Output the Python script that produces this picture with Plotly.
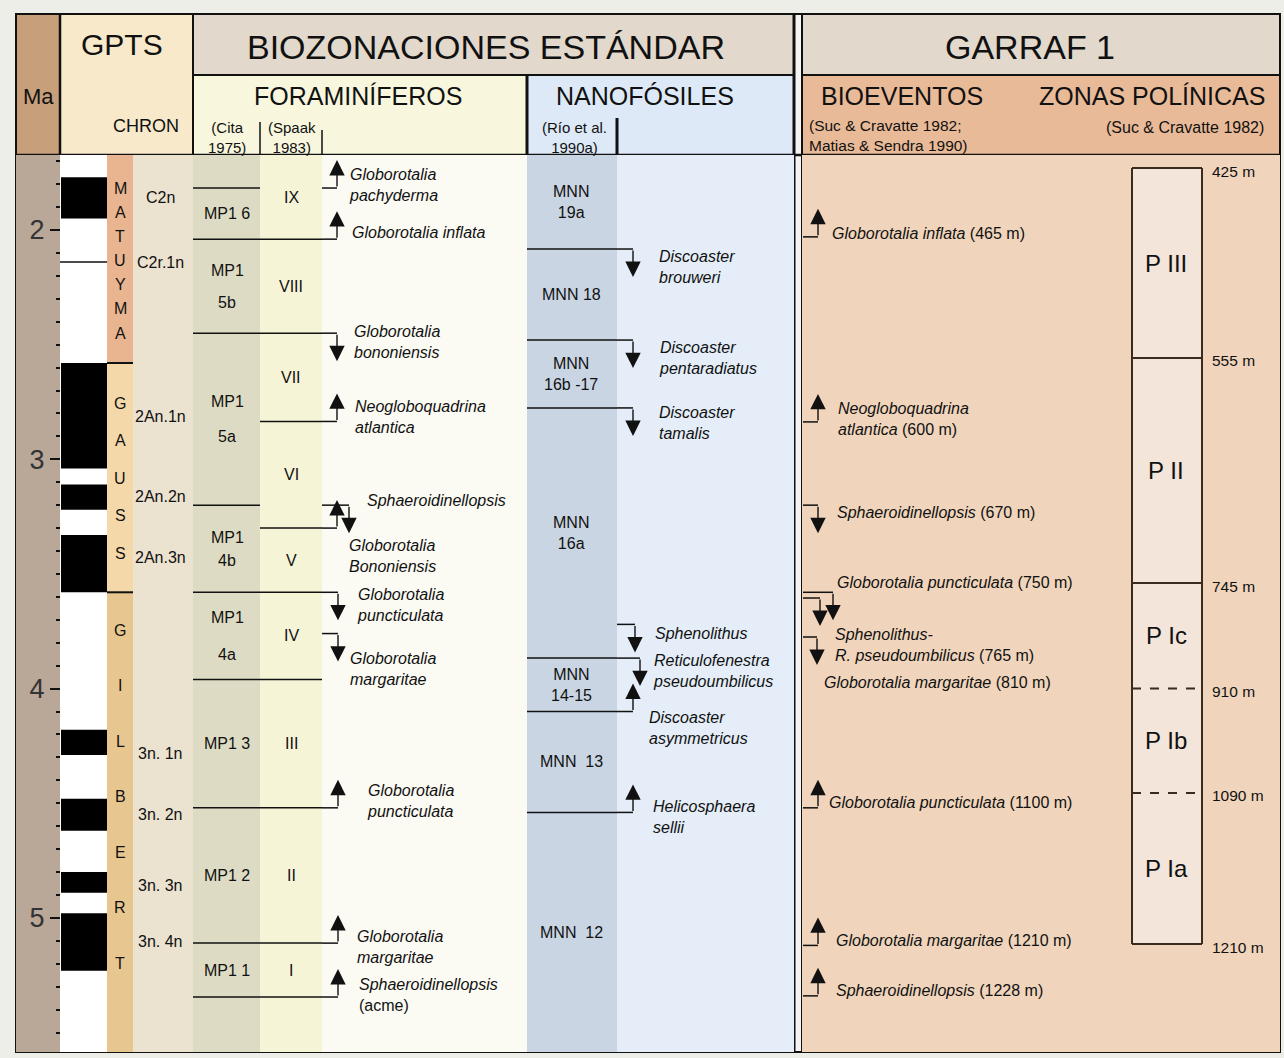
import plotly.graph_objects as go

# ---------------- data (ages in Ma) ----------------
# GPTS: normal polarity intervals (black)
normal_top = [1.77, 2.58, 3.11, 3.33, 4.18, 4.48, 4.80, 4.98]
normal_base = [1.95, 3.04, 3.22, 3.58, 4.29, 4.62, 4.89, 5.23]
reunion_ma = 2.14
epochs = ["MATUYMA", "GAUSS", "GILBERT"]
epoch_limits = [2.58, 3.58]
chrons = ["C2n", "C2r.1n", "2An.1n", "2An.2n", "2An.3n", "3n. 1n", "3n. 2n", "3n. 3n", "3n. 4n"]
chron_ma = [1.86, 2.14, 2.815, 3.164, 3.43, 4.281, 4.551, 4.857, 5.105]

# planktonic foraminifera
cita_zones = ["MP1 6", "MP1|5b", "MP1|5a", "MP1|4b", "MP1|4a", "MP1 3", "MP1 2", "MP1 1"]
cita_limits = [1.817, 2.04, 2.45, 3.20, 3.58, 3.96, 4.52, 5.11, 5.345]
spaak_zones = ["IX", "VIII", "VII", "VI", "V", "IV", "III", "II", "I"]
spaak_limits = [2.04, 2.45, 2.835, 3.30, 3.58, 3.96, 4.52, 5.11, 5.345]
foram_events = ["<i>Globorotalia<br>pachyderma</i>", "<i>Globorotalia inflata</i>",
                "<i>Globorotalia<br>bononiensis</i>", "<i>Neogloboquadrina<br>atlantica</i>",
                "<i>Sphaeroidinellopsis</i>", "<i>Globorotalia<br>Bononiensis</i>",
                "<i>Globorotalia<br>puncticulata</i>", "<i>Globorotalia<br>margaritae</i>",
                "<i>Globorotalia<br>puncticulata</i>", "<i>Globorotalia<br>margaritae</i>",
                "<i>Sphaeroidinellopsis</i><br>(acme)"]
foram_ma = [1.817, 2.04, 2.45, 2.835, 3.20, 3.30, 3.58, 3.76, 4.52, 5.11, 5.345]
foram_dir = ["up", "up", "down", "up", "down", "up", "down", "down", "up", "up", "up"]

# calcareous nannofossils
nanno_zones = ["MNN<br>19a", "MNN 18", "MNN<br>16b -17", "MNN<br>16a", "MNN<br>14-15",
               "MNN\u00a0 13", "MNN\u00a0 12"]
nanno_limits = [2.083, 2.48, 2.776, 3.867, 4.10, 4.54]
nanno_events = ["<i>Discoaster<br>brouweri</i>", "<i>Discoaster<br>pentaradiatus</i>",
                "<i>Discoaster<br>tamalis</i>", "<i>Sphenolithus</i>",
                "<i>Reticulofenestra<br>pseudoumbilicus</i>", "<i>Discoaster<br>asymmetricus</i>",
                "<i>Helicosphaera<br>sellii</i>"]
nanno_ma = [2.083, 2.48, 2.776, 3.72, 3.867, 4.10, 4.54]
nanno_dir = ["down", "down", "down", "down", "down", "up", "up"]

# Garraf 1 well
garraf_events = ["<i>Globorotalia inflata</i> (465 m)",
                 "<i>Neogloboquadrina<br>atlantica</i> (600 m)",
                 "<i>Sphaeroidinellopsis</i> (670 m)",
                 "<i>Globorotalia puncticulata</i> (750 m)",
                 "<i>Sphenolithus-<br>R. pseudoumbilicus</i> (765 m)",
                 "<i>Globorotalia margaritae</i> (810 m)",
                 "<i>Globorotalia puncticulata</i> (1100 m)",
                 "<i>Globorotalia margaritae</i> (1210 m)",
                 "<i>Sphaeroidinellopsis</i> (1228 m)"]
garraf_ma = [2.03, 2.837, 3.20, 3.58, 3.605, 3.775, 4.52, 5.12, 5.34]
garraf_dir = ["up", "up", "down", "down", "down", "down", "up", "up", "up"]
pollen_zones = ["P III", "P II", "P Ic", "P Ib", "P Ia"]
pollen_ma = [1.73, 2.558, 3.54, 4.00, 4.455, 5.114]
pollen_depth = ["425 m", "555 m", "745 m", "910 m", "1090 m", "1210 m"]
pollen_dashed = [False, False, False, True, True, False]

# ---------------- layout helpers ----------------
W, H = 1284, 1058
MA0, MA1 = 0.997, 5.611          # ages at the top / bottom pixel rows
K = H / (MA1 - MA0)              # pixels per Ma
FONT = "Arial, Liberation Sans, sans-serif"
INK = "#111111"
ARROW = 28                        # arrow length, px


def ma(p):
    return MA0 + p / K


def pp(p):
    return 1 - p / H


TOP, BOT = ma(155), ma(1052)

shapes, anns = [], []


def box(x0, x1, y0, y1, fill, yref="y"):
    shapes.append(dict(type="rect", xref="x", yref=yref, x0=x0, x1=x1, y0=y0, y1=y1,
                       fillcolor=fill, line_width=0, layer="below"))


def line(x0, x1, y0, y1, w=1.5, yref="y", dash=None, color=INK):
    shapes.append(dict(type="line", xref="x", yref=yref, x0=x0, x1=x1, y0=y0, y1=y1,
                       line=dict(color=color, width=w, dash=dash), layer="below"))


def text(x, y, s, size=16, yref="y", xanchor="center", color=INK):
    anns.append(dict(x=x, y=y, xref="x", yref=yref, text=s, showarrow=False,
                     xanchor=xanchor, yanchor="middle", align=xanchor if xanchor != "center" else "center",
                     font=dict(size=size, color=color, family=FONT)))


def event(x_from, x_stem, age, direction):
    line(x_from, x_stem, age, age, w=1.5)
    tip = age - ARROW / K if direction == "up" else age + ARROW / K
    anns.append(dict(x=x_stem, y=tip, ax=x_stem, ay=age, xref="x", yref="y", axref="x", ayref="y",
                     text="", showarrow=True, arrowhead=2, arrowsize=2.2, arrowwidth=1.4,
                     arrowcolor=INK, standoff=0, startstandoff=0))


# ---------------- header ----------------
box(16, 60, pp(14), pp(155), "#c89f7b", "paper")
box(60, 193, pp(14), pp(155), "#f8e9cb", "paper")
box(193, 794, pp(14), pp(75), "#e2d8cb", "paper")
box(193, 527, pp(75), pp(155), "#f8f7dd", "paper")
box(527, 794, pp(75), pp(155), "#dde9f6", "paper")
box(794, 802, pp(14), pp(1052), "#f4f4f2", "paper")
box(802, 1280, pp(14), pp(75), "#e2d8cb", "paper")
box(802, 1280, pp(75), pp(155), "#e9ba97", "paper")

text(38, pp(97), "Ma", 22, "paper")
text(122, pp(45), "GPTS", 30, "paper")
text(146, pp(126), "CHRON", 18, "paper")
text(486, pp(47), "BIOZONACIONES ESTÁNDAR", 34, "paper")
text(358, pp(96), "FORAMINÍFEROS", 25, "paper")
text(227, pp(137), "(Cita<br>1975)", 15, "paper")
text(292, pp(137), "(Spaak<br>1983)", 15, "paper")
text(645, pp(96), "NANOFÓSILES", 25, "paper")
text(574, pp(137), "(Río et al.<br>1990a)", 15, "paper")
text(1030, pp(47), "GARRAF 1", 34, "paper")
text(902, pp(96), "BIOEVENTOS", 25, "paper")
text(1152, pp(96), "ZONAS POLÍNICAS", 25, "paper")
text(807, pp(135), "(Suc & Cravatte 1982;<br>Matias & Sendra 1990)", 15.5, "paper", "left")
text(1266, pp(127), "(Suc & Cravatte 1982)", 16, "paper", "right")

# ---------------- body columns ----------------
box(16, 60, TOP, BOT, "#b9a797")
box(60, 107, TOP, BOT, "#ffffff")
box(133, 193, TOP, BOT, "#ece2d0")
box(193, 260, TOP, BOT, "#dedbc4")
box(260, 322, TOP, BOT, "#f6f4d7")
box(322, 527, TOP, BOT, "#fbfaf3")
box(527, 617, TOP, BOT, "#c9d5e3")
box(617, 794, TOP, BOT, "#e4edf8")
box(802, 1280, TOP, BOT, "#f0d5bc")

# polarity
line(60, 107, reunion_ma, reunion_ma, w=1.5)
polarity = go.Bar(x=[84] * len(normal_top), base=normal_top,
                  y=[b - t for t, b in zip(normal_top, normal_base)],
                  width=46, marker=dict(color="#000000", line_width=0), hoverinfo="skip")

# epochs
ep_colors = ["#e9b590", "#f5d8aa", "#e8c68f"]
ep_bounds = [TOP] + epoch_limits + [BOT]
letter_span = [(188, 333), (403, 553), (630, 963)]
for i, name in enumerate(epochs):
    box(107, 133, ep_bounds[i], ep_bounds[i + 1], ep_colors[i])
    if 0 < i:
        line(107, 133, ep_bounds[i], ep_bounds[i], w=2)
    a, b = letter_span[i]
    n = len(name)
    for j, ch in enumerate(name):
        text(120, ma(a + (b - a) * j / (n - 1)), ch, 16)

for name, age in zip(chrons, chron_ma):
    text(160, age, name, 16)

# Cita zones
cita_gap = [0, 32, 35, 23, 37, 0, 0, 0]
for lim in cita_limits:
    line(193, 260, lim, lim, w=1.5)
for i, name in enumerate(cita_zones):
    mid = (cita_limits[i] + cita_limits[i + 1]) / 2
    if "|" in name:
        top_s, bot_s = name.split("|")
        g = cita_gap[i] / 2 / K
        text(227, mid - g, top_s, 16)
        text(227, mid + g, bot_s, 16)
    else:
        text(227, mid, name, 16)

# Spaak zones
sp_bounds = [TOP] + spaak_limits
for lim in spaak_limits:
    line(260, 322, lim, lim, w=1.5)
for i, name in enumerate(spaak_zones):
    text(291, (sp_bounds[i] + sp_bounds[i + 1]) / 2, name, 16)

# nanno zones
nn_bounds = [TOP] + nanno_limits + [BOT]
for lim in nanno_limits:
    line(527, 617, lim, lim, w=1.5)
for i, name in enumerate(nanno_zones):
    text(571, (nn_bounds[i] + nn_bounds[i + 1]) / 2, name, 16)

# foram events
f_stem = [337, 337, 337, 337, 349, 337, 338, 338, 338, 338, 338]
f_lx = [347, 350, 352, 353, 365, 347, 355, 348, 365, 355, 357]
f_ly = [185, 232, 342, 417, 500, 556, 605, 669, 801, 947, 995]
for i, name in enumerate(foram_events):
    event(322, f_stem[i], foram_ma[i], foram_dir[i])
    text(f_lx[i], ma(f_ly[i]), name, 16, xanchor="left")

# nanno events
n_stem = [633, 633, 633, 635, 640, 633, 633]
n_lx = [657, 657, 657, 653, 651, 647, 651]
n_ly = [267, 358, 423, 633, 671, 728, 817]
for i, name in enumerate(nanno_events):
    event(617, n_stem[i], nanno_ma[i], nanno_dir[i])
    text(n_lx[i], ma(n_ly[i]), name, 16, xanchor="left")

# Garraf events
g_stem = [818, 818, 818, 833, 820, 817, 818, 818, 818]
g_lx = [830, 836, 835, 835, 833, 822, 827, 834, 834]
g_ly = [233, 419, 512, 582, 645, 682, 802, 940, 990]
for i, name in enumerate(garraf_events):
    event(803, g_stem[i], garraf_ma[i], garraf_dir[i])
    text(g_lx[i], ma(g_ly[i]), name, 16, xanchor="left")

# pollen zones
box(1132, 1202, pollen_ma[0], pollen_ma[-1], "#f3e5d9")
line(1132, 1132, pollen_ma[0], pollen_ma[-1], w=2, color="#3b2a1e")
line(1202, 1202, pollen_ma[0], pollen_ma[-1], w=2, color="#3b2a1e")
for age, lab, dashed in zip(pollen_ma, pollen_depth, pollen_dashed):
    line(1132, 1202, age, age, w=2, dash="dash" if dashed else None, color="#3b2a1e")
    text(1210, age + 3 / K, lab, 15.5, xanchor="left")
for i, name in enumerate(pollen_zones):
    text(1166, (pollen_ma[i] + pollen_ma[i + 1]) / 2, name, 24)

# ---------------- frame lines ----------------
line(193, 794, pp(75), pp(75), w=2, yref="paper")
line(802, 1280, pp(75), pp(75), w=2, yref="paper")
line(16, 1280, pp(155), pp(155), w=2.5, yref="paper")
line(60, 60, pp(14), pp(1052), w=2.5, yref="paper")
line(193, 193, pp(14), pp(1052), w=2, yref="paper")
line(107, 107, pp(155), pp(1052), w=1.5, yref="paper")
line(133, 133, pp(155), pp(1052), w=1.5, yref="paper")
line(260, 260, pp(122), pp(1052), w=1.5, yref="paper")
line(322, 322, pp(130), pp(1052), w=1.5, yref="paper")
line(527, 527, pp(75), pp(1052), w=3, yref="paper")
line(617, 617, pp(118), pp(1052), w=3, yref="paper")
line(794, 794, pp(14), pp(1052), w=3, yref="paper")
line(802, 802, pp(14), pp(1052), w=2, yref="paper")
shapes.append(dict(type="rect", xref="x", yref="paper", x0=16, x1=1280, y0=pp(14), y1=pp(1052),
                   line=dict(color=INK, width=2), fillcolor="rgba(0,0,0,0)", layer="below"))

fig = go.Figure(polarity)
fig.update_layout(
    width=W, height=H, margin=dict(l=0, r=0, t=0, b=0),
    paper_bgcolor="#eeeee9", plot_bgcolor="#eeeee9", showlegend=False,
    shapes=shapes, annotations=anns,
    xaxis=dict(range=[0, W], visible=False, domain=[0, 1], fixedrange=True),
    yaxis=dict(range=[MA1, MA0], anchor="free", position=60 / W, side="left",
               showgrid=False, zeroline=False, showline=False,
               tickvals=[2, 3, 4, 5], ticks="outside", ticklen=10, tickwidth=1.5, tickcolor=INK,
               tickfont=dict(size=27, color="#333333", family=FONT),
               minor=dict(tickvals=[round(1.7 + 0.1 * i, 1) for i in range(39)],
                          ticks="outside", ticklen=4, tickwidth=1.5, tickcolor=INK)),
)
# the page's default 8px body margin would shift the figure
fig.write_html("out.html", config={"displayModeBar": False},
               post_script="document.body.style.margin='0';"
                           "document.body.style.background='#eeeee9';")
